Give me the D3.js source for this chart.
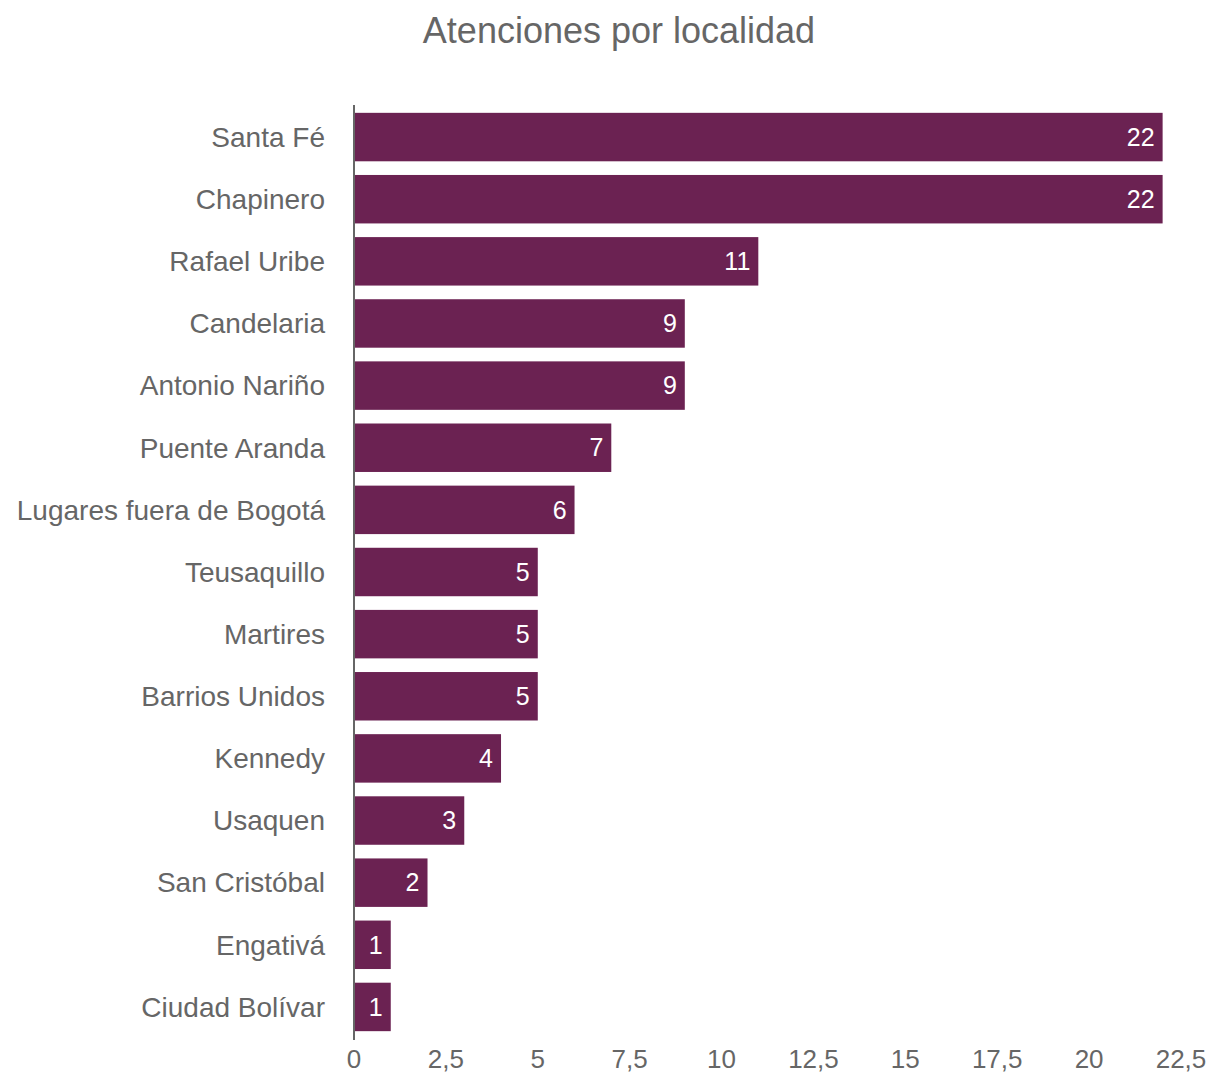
<!DOCTYPE html>
<html><head><meta charset="utf-8">
<script src="https://cdn.jsdelivr.net/npm/d3@7"></script>
<style>body{margin:0;background:#fff}</style>
</head><body>
<svg id="c" width="1213" height="1073"></svg>
<script>
const categories = ["Santa Fé","Chapinero","Rafael Uribe","Candelaria","Antonio Nariño","Puente Aranda","Lugares fuera de Bogotá","Teusaquillo","Martires","Barrios Unidos","Kennedy","Usaquen","San Cristóbal","Engativá","Ciudad Bolívar"];
const values = [22,22,11,9,9,7,6,5,5,5,4,3,2,1,1];
const tickValues = [0,2.5,5,7.5,10,12.5,15,17.5,20,22.5];
const title = "Atenciones por localidad";

const svg = d3.select("#c");
const font = "'Liberation Sans', Arial, sans-serif";
const x = d3.scaleLinear().domain([0,22.5]).range([354,1181]);
const y = d3.scaleBand().domain(categories).range([106,1038]).paddingInner(0.22).paddingOuter(0.11);

svg.append("text").attr("x",619).attr("y",43).attr("text-anchor","middle")
  .attr("font-family",font).attr("font-size",36).attr("fill","#666").text(title);

svg.selectAll("rect.bar").data(values).enter().append("rect")
  .attr("x",x(0)+1).attr("y",(d,i)=>y(categories[i]))
  .attr("width",d=>x(d)-x(0)-1).attr("height",y.bandwidth()).attr("fill","#6B2252");

svg.selectAll("text.val").data(values).enter().append("text")
  .attr("x",d=>x(d)-8).attr("y",(d,i)=>y(categories[i])+y.bandwidth()/2)
  .attr("dy","0.35em").attr("text-anchor","end").attr("font-family",font)
  .attr("font-size",25).attr("fill","#fff").text(d=>d);

svg.selectAll("text.cat").data(categories).enter().append("text")
  .attr("x",325).attr("y",d=>y(d)+y.bandwidth()/2).attr("dy","0.35em")
  .attr("text-anchor","end").attr("font-family",font).attr("font-size",28)
  .attr("fill","#666").text(d=>d);

svg.append("line").attr("x1",x(0)).attr("x2",x(0)).attr("y1",105).attr("y2",1040)
  .attr("stroke","#666").attr("stroke-width",2);

svg.selectAll("text.tick").data(tickValues).enter().append("text")
  .attr("x",d=>x(d)).attr("y",1068).attr("text-anchor","middle")
  .attr("font-family",font).attr("font-size",26).attr("fill","#666")
  .text(d=>String(d).replace(".",","));
</script>
</body></html>
